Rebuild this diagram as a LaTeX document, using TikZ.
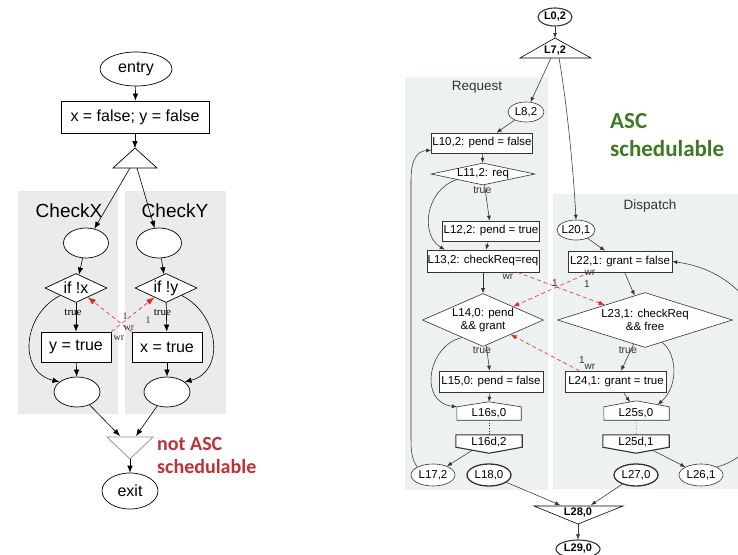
\documentclass[tikz,border=0pt]{standalone}
\usepackage{fontspec}
\usetikzlibrary{shapes.geometric,arrows.meta,calc}
\newfontfamily\gsans{Liberation Sans}
\newfontfamily\gserif{Liberation Serif}
\newfontfamily\gcal{Carlito}
\definecolor{clgray}{HTML}{EBEBEB}
\definecolor{clblue}{HTML}{EEF1F2}
\definecolor{notred}{RGB}{192,48,52}
\definecolor{ascgreen}{RGB}{62,122,32}
\definecolor{wrred}{RGB}{235,35,35}
\definecolor{rline}{HTML}{333333}

\begin{document}
\begin{tikzpicture}[x=1pt,y=-1pt,
  lf/.style={font=\gsans\fontsize{16}{18}\selectfont},
  rf/.style={font=\gsans\fontsize{11.5}{13.5}\selectfont},
  rb/.style={font=\gsans\bfseries\fontsize{11}{13}\selectfont},
  lell/.style={lf, draw, fill=white, ellipse, inner xsep=-4pt, inner ysep=0pt, line width=0.7pt},
  lrect/.style={lf, draw, fill=white, rectangle, inner sep=0pt, line width=0.7pt},
  ldia/.style={lf, draw, fill=white, diamond, inner xsep=-30pt, inner ysep=-8pt, line width=0.7pt},
  rell/.style={rf, draw=rline, fill=white, ellipse, inner xsep=-4pt, inner ysep=0pt, line width=0.6pt},
  rrect/.style={rf, draw=rline, fill=white, rectangle, inner sep=0pt, line width=0.6pt},
  rdia/.style={rf, draw=rline, fill=white, diamond, inner xsep=-30pt, inner ysep=-8pt, line width=0.6pt, align=center},
  hbody/.style={inner sep=0pt},
  hline/.style={draw=rline, fill=white, line width=0.6pt, line join=miter},
  ledge/.style={line width=0.6pt, -{Latex[length=7pt,width=5.5pt]}},
  redge/.style={line width=0.55pt, rline, -{Latex[length=5pt,width=4pt]}},
  lwr/.style={wrred, line width=0.6pt, dash pattern=on 4pt off 3pt, -{Latex[length=8pt,width=6pt]}},
  rwr/.style={wrred, line width=0.6pt, dash pattern=on 4pt off 3pt, -{Latex[length=6pt,width=4.5pt]}},
  ltl/.style={font=\gserif\fontsize{11}{12}\selectfont, inner sep=0pt},
  rtl/.style={font=\gsans\fontsize{10.5}{12}\selectfont, inner sep=0pt},
  lwl/.style={font=\gserif\fontsize{10}{11}\selectfont, inner sep=0pt, text=rline},
  rwl/.style={font=\gsans\fontsize{10}{12}\selectfont, inner sep=0pt, text=rline},
  ctitle/.style={font=\gsans\fontsize{19}{22}\selectfont, inner sep=0pt},
  rtitle/.style={font=\gsans\fontsize{13.5}{16}\selectfont, inner sep=0pt, text=rline}
]
\useasboundingbox (0,0) rectangle (738,554);
\fill[white] (0,0) rectangle (738,554);
\clip (0,0) rectangle (738,554);

% ---------- clusters ----------
\fill[clgray] (18,191) rectangle (118,414);
\fill[clgray] (125,191) rectangle (226,414);
\fill[clblue] (405,77) rectangle (548,490);
\fill[clblue] (553,194) rectangle (738,489);
\node[ctitle] (tCheckX) at (69,211) {CheckX};
\node[ctitle] (tCheckY) at (175,211) {CheckY};
\node[rtitle] (tReq) at (477,87) {Request};
\node[rtitle] (tDisp) at (650,206) {Dispatch};

% ---------- left program ----------
\node[lell, minimum width=72pt, minimum height=34pt] (entry) at (136,69) {entry};
\node[lrect, minimum width=148pt, minimum height=32pt] (init) at (135,117) {x = false; y = false};
\coordinate (forkTop) at (135,148);
\coordinate (forkL) at (113,168);
\coordinate (forkR) at (157,168);
\coordinate (forkA) at (130,168);
\coordinate (forkB) at (137,168);
\draw[line width=0.7pt, fill=white] (forkTop) -- (forkR) -- (forkL) -- cycle;

\node[lell, minimum width=45pt, minimum height=30pt] (ex1) at (86,243) {};
\node[lell, minimum width=45pt, minimum height=30pt] (ey1) at (159,243) {};
\node[ldia, minimum width=62pt, minimum height=29pt] (dx) at (76,288) {if !x};
\node[ldia, minimum width=62pt, minimum height=29pt] (dy) at (166,288) {if !y};
\node[lrect, minimum width=70pt, minimum height=30pt] (by) at (76,347) {y = true};
\node[lrect, minimum width=70pt, minimum height=30pt] (bx) at (167,347) {x = true};
\node[lell, minimum width=46pt, minimum height=30pt] (ex2) at (77,392) {};
\node[lell, minimum width=46pt, minimum height=30pt] (ey2) at (167,392) {};

\coordinate (joinL) at (107,437);
\coordinate (joinR) at (153,437);
\coordinate (joinBot) at (130,459);
\coordinate (joinA) at (120,436);
\coordinate (joinB) at (136,436);
\draw[line width=0.7pt, draw=black!45, fill=white] (joinL) -- (joinR) -- (joinBot) -- cycle;
\node[lell, minimum width=56pt, minimum height=36pt] (exit) at (130,491) {exit};

\node[anchor=west, font=\gcal\bfseries\fontsize{20}{23}\selectfont, text=notred,
      align=left, inner sep=0pt] (notasc) at (157,456) {not ASC\\schedulable};

% left connectors
\draw[ledge] (entry) -- (init);
\draw[ledge] (init) -- (forkTop);
\draw[ledge] (forkA) -- (ex1);
\draw[ledge] (forkB) -- (ey1);
\draw[ledge] (ex1) -- (dx);
\draw[ledge] (ey1) -- (dy);
\draw[ledge] (dx) -- node[ltl, pos=0.35, xshift=-3pt] (tlx) {true} (by);
\draw[ledge] (dy) -- node[ltl, pos=0.35, xshift=-4pt] (tly) {true} (bx);
\draw[ledge] (by) -- (ex2);
\draw[ledge] (bx) -- (ey2);
\draw[ledge] (dx.south west) .. controls (22,315) and (18,372) .. (ex2.150);
\draw[ledge] (dy.south east) .. controls (220,315) and (225,372) .. (ey2.30);
\draw[ledge] (ex2) -- (joinA);
\draw[ledge] (ey2) -- (joinB);
\draw[ledge] (joinBot) -- (exit);

% write/read dependencies
\draw[lwr] (bx.north west) -- (dx);
\draw[lwr] (by.north east) -- (dy);
\node[lwl] (lw1) at (125,316) {1};
\node[lwl] (lw2) at (129,328) {wr};
\node[lwl] (lw3) at (119,338) {wr};
\node[lwl] (lw4) at (148,320) {1};

% ---------- right program ----------
\node[rell, line width=1.1pt, rb, minimum width=34pt, minimum height=18pt] (l0) at (555,17) {L0,2};
\coordinate (l7Top) at (555,38);
\coordinate (l7L) at (520,58);
\coordinate (l7R) at (591,58);
\coordinate (l7A) at (551,58);
\coordinate (l7B) at (559,58);
\draw[line width=0.6pt, fill=white] (l7Top) -- (l7R) -- (l7L) -- cycle;
\node[rb, inner sep=0pt] (l7) at (555,51) {L7,2};

\node[font=\gcal\bfseries\fontsize{23}{28}\selectfont, text=ascgreen, align=left,
      anchor=west, inner sep=0pt] (asc) at (610,135) {ASC\\schedulable};

% Request
\node[rell, minimum width=36pt, minimum height=20pt] (l8) at (526,112) {L8,2};
\node[rrect, minimum width=101pt, minimum height=20pt] (l10) at (482,143) {L10,2: pend = false};
\node[rdia, minimum width=104pt, minimum height=22pt] (l11) at (483,174) {L11,2: req};
\node[rrect, minimum width=97pt, minimum height=20pt] (l12) at (491,231) {L12,2: pend = true};
\node[rrect, minimum width=112pt, minimum height=22pt] (l13) at (483,261) {L13,2: checkReq=req};
\node[rdia, minimum width=121pt, minimum height=53pt] (l14) at (483,320) {L14,0: pend\\\&\& grant};
\node[rrect, minimum width=104pt, minimum height=21pt] (l15) at (491,381.5) {L15,0: pend = false};

\node[hbody, minimum width=64pt, minimum height=13pt] (l16s) at (489,413.5) {};
\coordinate (l16sTop) at ($(l16s.north)+(0,-5)$);
\draw[hline] (l16s.south west) -- (l16s.north west) -- (l16sTop) -- (l16s.north east) -- (l16s.south east) -- cycle;
\node[rf, inner sep=0pt] (l16sT) at (489,413) {L16s,0};

\node[hbody, minimum width=66pt, minimum height=12pt] (l16d) at (489,441) {};
\coordinate (l16dBot) at ($(l16d.south)+(0,6)$);
\draw[hline, line width=1.1pt] (l16d.north west) -- (l16d.north east) -- (l16d.south east) -- (l16dBot) -- (l16d.south west) -- cycle;
\node[rf, inner sep=0pt] (l16dT) at (489,442) {L16d,2};

\node[rell, minimum width=44pt, minimum height=22pt] (l17) at (433,475) {L17,2};
\node[rell, line width=1.3pt, minimum width=44pt, minimum height=22pt] (l18) at (489,475) {L18,0};

% Dispatch
\node[rell, minimum width=38pt, minimum height=20pt] (l20) at (576,230) {L20,1};
\node[rrect, minimum width=104pt, minimum height=21pt] (l22) at (620,261.5) {L22,1: grant = false};
\node[rdia, minimum width=175pt, minimum height=55pt] (l23) at (645,320) {L23,1: checkReq\\\&\& free};
\node[rrect, minimum width=101pt, minimum height=21pt] (l24) at (616,381.5) {L24,1: grant = true};

\node[hbody, minimum width=65pt, minimum height=13pt] (l25s) at (636.5,413.5) {};
\coordinate (l25sTop) at ($(l25s.north)+(0,-6)$);
\draw[hline] (l25s.south west) -- (l25s.north west) -- (l25sTop) -- (l25s.north east) -- (l25s.south east) -- cycle;
\node[rf, inner sep=0pt] (l25sT) at (636,413) {L25s,0};

\node[hbody, minimum width=66pt, minimum height=12pt] (l25d) at (636,441) {};
\coordinate (l25dBot) at ($(l25d.south)+(0,6)$);
\draw[hline, line width=1.1pt] (l25d.north west) -- (l25d.north east) -- (l25d.south east) -- (l25dBot) -- (l25d.south west) -- cycle;
\node[rf, inner sep=0pt] (l25dT) at (636,442) {L25d,1};

\node[rell, line width=1.3pt, minimum width=44pt, minimum height=22pt] (l27) at (636,475) {L27,0};
\node[rell, minimum width=44pt, minimum height=22pt] (l26) at (701,475) {L26,1};

% join and exit
\coordinate (l28L) at (534,506);
\coordinate (l28R) at (623,506);
\coordinate (l28Bot) at (578,524);
\coordinate (l28A) at (560,505);
\coordinate (l28B) at (591,505);
\draw[line width=0.6pt, fill=white] (l28L) -- (l28R) -- (l28Bot) -- cycle;
\node[rb, inner sep=0pt] (l28) at (578,513) {L28,0};
\node[rell, rb, line width=1.1pt, minimum width=44pt, minimum height=18pt] (l29) at (578,549) {L29,0};

% right connectors
\draw[redge] (l0) -- (l7Top);
\draw[redge] (l7A) -- (l8);
\draw[redge] (l7B) .. controls (568,110) and (574,180) .. (l20.north);
\draw[redge] (l8) -- (l10);
\draw[redge] (l10) -- (l11);
\draw[redge] (l11) -- node[rtl, pos=0.15, xshift=-3pt] (t11) {true} (l12);
\draw[redge] (l11.south west) .. controls (425,190) and (420,235) .. ([xshift=18pt]l13.north west);
\draw[redge] (l12) -- (l13);
\draw[redge] (l13) -- (l14);
\draw[redge] (l14) -- node[rtl, pos=0.2, xshift=-5pt] (t14) {true} (l15);
\draw[redge] (l14.-140) .. controls (428,345) and (418,402) .. (l16s.north west);
\draw[redge] (l15) -- (l16sTop);
\draw[rline, line width=0.6pt, dotted] (l16s.south) -- (l16d.north);
\draw[redge] ($(l16dBot)!0.5!(l16d.south west)$) -- (l17);
\draw[redge] (l17.north west) .. controls (411,458) and (411,450) .. (411,435)
   -- (411,180) .. controls (411,158) and (418,151) .. ([yshift=3pt]l10.south west);
\draw[redge] (l18) -- (l28A);
\draw[redge] (l27) -- (l28B);
\draw[redge] (l28Bot) -- (l29);

\draw[redge] (l20) -- (l22);
\draw[redge] (l22) -- (l23);
\draw[redge] (l23) -- node[rtl, pos=0.22, xshift=-3pt] (t23) {true} (l24);
\draw[redge] (l23.-53) .. controls (676,352) and (680,385) .. ($(l25sTop)!0.65!(l25s.north east)$);
\draw[redge] (l24) -- ($(l25sTop)!0.2!(l25s.north west)$);
\draw[rline, line width=0.6pt, dotted] (l25s.south) -- (l25d.north);
\draw[redge] ($(l25dBot)!0.5!(l25d.south east)$) -- (l26);
\draw[redge] (l26.north east) .. controls (800,445) and (795,278) .. (l22.east);

% write/read dependencies
\draw[rwr] ([xshift=-22pt]l13.south east) -- (l23);
\draw[rwr] ([xshift=22pt]l22.south west) -- (l14);
\draw[rwr] ([xshift=14pt]l24.north west) -- (l14);
\node[rwl] (rw1) at (508,277) {wr};
\node[rwl] (rw2) at (555,283) {1};
\node[rwl] (rw3) at (590,273) {wr};
\node[rwl] (rw4) at (587,284) {1};
\node[rwl] (rw5) at (582,360) {1};
\node[rwl] (rw6) at (590,367) {wr};
\end{tikzpicture}
\end{document}
